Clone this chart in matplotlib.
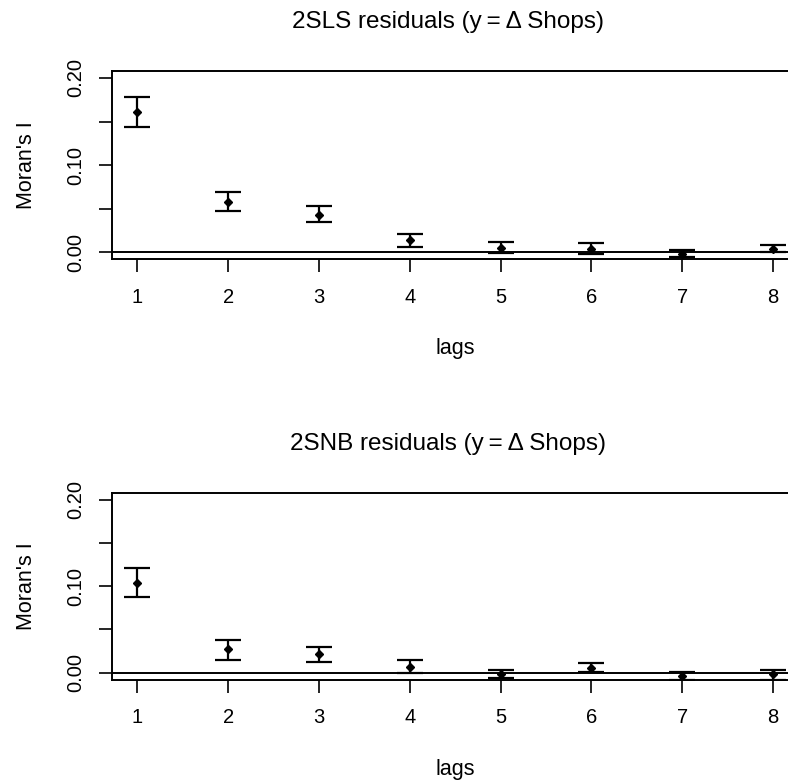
import numpy as np
import matplotlib
matplotlib.use("Agg")
import matplotlib.pyplot as plt

plt.rcParams["font.family"] = ["Liberation Sans", "DejaVu Sans"]

# -----------------------------
# DATA
# -----------------------------
lags = [1, 2, 3, 4, 5, 6, 7, 8]

# 2SLS residuals
sls_I = [0.161, 0.058, 0.043, 0.014, 0.005, 0.004, -0.002, 0.003]
sls_lo = [0.144, 0.047, 0.034, 0.006, -0.001, -0.002, -0.006, 0.000]
sls_hi = [0.178, 0.069, 0.053, 0.021, 0.012, 0.010, 0.002, 0.008]

# 2SNB residuals
snb_I = [0.104, 0.027, 0.022, 0.007, -0.001, 0.005, -0.004, -0.002]
snb_lo = [0.087, 0.015, 0.012, 0.000, -0.006, 0.001, -0.008, -0.008]
snb_hi = [0.121, 0.038, 0.030, 0.015, 0.003, 0.011, 0.001, 0.003]

titles = ["2SLS residuals (y\u2009=\u2009\u0394 Shops)", "2SNB residuals (y\u2009=\u2009\u0394 Shops)"]
yticks = [0.0, 0.05, 0.10, 0.15, 0.20]
ytick_labels = ["0.00", "", "0.10", "", "0.20"]

# -----------------------------
# FIGURE
# -----------------------------
fig = plt.figure(figsize=(7.88, 7.84), dpi=100)
ax1 = fig.add_axes([0.1421, 0.6696, 0.8712, 0.2398])
ax2 = fig.add_axes([0.1421, 0.1332, 0.8712, 0.2384])


def draw_panel(ax, est, lo, hi, title):
    est = np.array(est)
    lo = np.array(lo)
    hi = np.array(hi)
    ax.axhline(0, color="black", lw=1.4, zorder=1)
    ax.errorbar(lags, est, yerr=[est - lo, hi - est], fmt="D", color="black",
                ms=4.5, elinewidth=1.6, capsize=9.5, capthick=1.6, zorder=3)
    ax.set_xlim(0.72, 8.28)
    ax.set_ylim(-0.008, 0.208)
    ax.set_xticks(lags)
    ax.set_xticklabels([str(l) for l in lags])
    ax.set_yticks(yticks)
    ax.set_yticklabels(ytick_labels, rotation=90, va="center")
    ax.tick_params(direction="out", length=9.5, width=1.2, labelsize=14.5)
    ax.tick_params(axis="x", pad=11)
    ax.tick_params(axis="y", pad=10)
    for s in ax.spines.values():
        s.set_linewidth(1.4)
    t = ax.set_title(title, fontsize=17.5, pad=31)
    t.set_x(0.49)
    ax.set_xlabel("lags", fontsize=15.5, labelpad=23)
    ax.set_ylabel("Moran's I", fontsize=15.5, labelpad=21)


draw_panel(ax1, sls_I, sls_lo, sls_hi, titles[0])
draw_panel(ax2, snb_I, snb_lo, snb_hi, titles[1])

fig.savefig("out.png", dpi=100)
